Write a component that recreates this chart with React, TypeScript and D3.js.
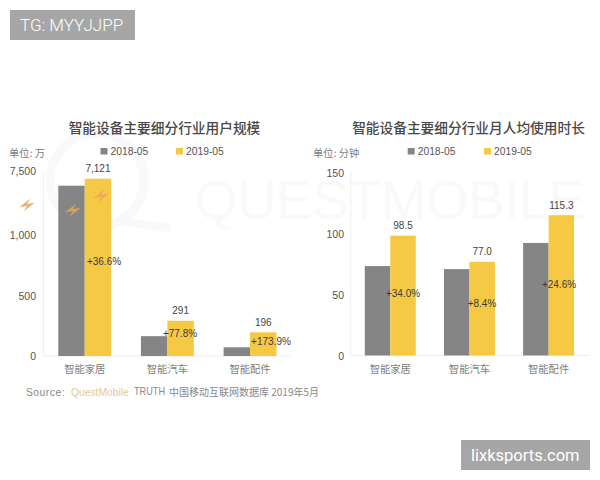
import React from "react";
import * as d3 from "d3";

const categories = ["智能家居", "智能汽车", "智能配件"];
const seriesNames = ["2018-05", "2019-05"];
const usersPrev = [5213, 164, 72];
const usersCurr = [7121, 291, 196];
const usersLabels = ["7,121", "291", "196"];
const usersGrowth = ["+36.6%", "+77.8%", "+173.9%"];
const usersTicks = [0, 500, 1000, 7500];
const usersTickLabels = ["0", "500", "1,000", "7,500"];
const timePrev = [73.5, 71, 92.5];
const timeCurr = [98.5, 77.0, 115.3];
const timeLabels = ["98.5", "77.0", "115.3"];
const timeGrowth = ["+34.0%", "+8.4%", "+24.6%"];
const timeTicks = [0, 50, 100, 150];

const GRAY = "#858585";
const YELLOW = "#f6c945";
const LATIN = "'Liberation Sans', 'Noto Sans CJK SC', sans-serif";
const CJK = "'Noto Sans CJK SC', sans-serif";

const growthPosLeft = [[104, 261], [180, 333], [271, 341.5]];
const growthPosRight = [[403, 293.5], [482, 303.7], [559, 284]];
const boltPos = [[27, 205], [73, 210], [101, 196]];

type PanelProps = {
  x0: number; x1: number; base: number;
  y: (v: number) => number;
  prev: number[]; curr: number[]; labels: string[];
  growth: string[]; growthPos: number[][];
  ticks: number[]; tickLabels: string[]; tickRight: number; topTickShift: number; padding: number;
  title: string; titleX: number; unit: string; unitX: number;
  legendX: number[];
};

function Panel(p: PanelProps) {
  const band = d3.scaleBand<string>().domain(categories).range([p.x0, p.x1]).paddingInner(p.padding).paddingOuter(p.padding / 2);
  const inner = d3.scaleBand<string>().domain(seriesNames).range([0, band.bandwidth()]);
  return (
    <g>
      <text x={p.titleX} y={127} textAnchor="middle" dominantBaseline="central" fontFamily={CJK} fontSize={13.7} fontWeight={500} fill="#484848">{p.title}</text>
      <text x={p.unitX} y={152} dominantBaseline="central" fontFamily={CJK} fontSize={10.3} fill="#7d7d7d">{p.unit}</text>
      {seriesNames.map((s, i) => (
        <g key={s}>
          <rect x={p.legendX[i]} y={148} width={7} height={6.5} fill={i ? YELLOW : GRAY} />
          <text x={p.legendX[i] + 10} y={151.5} dominantBaseline="central" fontFamily={LATIN} fontSize={10.3} fill="#555">{s}</text>
        </g>
      ))}
      <line x1={p.x0} x2={p.x0} y1={p.y(p.ticks[p.ticks.length - 1]) - 2} y2={p.base} stroke="#eee" />
      <line x1={p.x0} x2={p.x1} y1={p.base} y2={p.base} stroke="#eee" />
      {p.ticks.map((t, i) => (
        <text key={t} x={p.tickRight} y={p.y(t) - (i === p.ticks.length - 1 ? p.topTickShift : 0)} textAnchor="end" dominantBaseline="central" fontFamily={LATIN} fontSize={10.5} fill="#555">{p.tickLabels[i]}</text>
      ))}
      {categories.map((c, i) => {
        const bx = band(c)!;
        const w = inner.bandwidth();
        return (
          <g key={c}>
            <rect x={bx + inner(seriesNames[0])!} y={p.y(p.prev[i])} width={w} height={p.base - p.y(p.prev[i])} fill={GRAY} />
            <rect x={bx + inner(seriesNames[1])!} y={p.y(p.curr[i])} width={w} height={p.base - p.y(p.curr[i])} fill={YELLOW} />
            <text x={bx + inner(seriesNames[1])! + w / 2} y={p.y(p.curr[i]) - 10} textAnchor="middle" dominantBaseline="central" fontFamily={LATIN} fontSize={10} fill="#444">{p.labels[i]}</text>
            <text x={p.growthPos[i][0]} y={p.growthPos[i][1]} textAnchor="middle" dominantBaseline="central" fontFamily={LATIN} fontSize={10} fill="#3a3a3a">{p.growth[i]}</text>
            <text x={bx + band.bandwidth() / 2} y={368.5} textAnchor="middle" dominantBaseline="central" fontFamily={CJK} fontSize={10.3} fill="#7d7d7d">{c}</text>
          </g>
        );
      })}
    </g>
  );
}

export default function App() {
  const yLeft = d3.scaleLinear().domain([0, 1000, 5213, 7121, 7500]).range([356, 235, 185.7, 178.7, 175]);
  const yRight = d3.scaleLinear().domain([0, 150]).range([355.5, 173]);
  return (
    <svg width={600} height={480} style={{ position: "absolute", left: 0, top: 0, background: "#fff" }}>
      <g>
        <circle cx={97} cy={180} r={47} fill="none" stroke="#f9f9f9" strokeWidth={9} />
        <path d="M125 222 L170 228" stroke="#f9f9f9" strokeWidth={8} fill="none" />
        <text x={195} y={219} fontFamily={LATIN} fontSize={55} textLength={390} fill="#f9f9f9">QUESTMOBILE</text>
      </g>
      <Panel x0={43.4} x1={291.4} base={356} y={yLeft} prev={usersPrev} curr={usersCurr} labels={usersLabels}
        growth={usersGrowth} growthPos={growthPosLeft} ticks={usersTicks} tickLabels={usersTickLabels} tickRight={36} topTickShift={4.5}
        padding={0.36} title="智能设备主要细分行业用户规模" titleX={164.5} unit="单位: 万" unitX={9} legendX={[100.5, 176]} />
      <Panel x0={350.7} x1={588.2} base={355.5} y={yRight} prev={timePrev} curr={timeCurr} labels={timeLabels}
        growth={timeGrowth} growthPos={growthPosRight} ticks={timeTicks} tickLabels={timeTicks.map(String)} tickRight={344} topTickShift={0}
        padding={0.356} title="智能设备主要细分行业月人均使用时长" titleX={468.5} unit="单位: 分钟" unitX={313} legendX={[407.7, 484]} />
      {boltPos.map(([x, y], i) => (
        <path key={i} transform={`translate(${x},${y}) scale(1.1)`} d="M-7 2 L3 -6 L0 -1 L7 -2 L-3 6 L0 1 Z" fill="#e9a657" opacity={0.85} />
      ))}
      <text y={391.5} dominantBaseline="central" fontFamily={LATIN} fontSize={10.3} fill="#888">
        <tspan x={26} letterSpacing={0.5}>Source:</tspan>
        <tspan x={71} fill="#e8c88a">QuestMobile</tspan>
      </text>
      <text x={134} y={391.5} dominantBaseline="central" fontFamily={LATIN} fontSize={10.3} fill="#888" textLength={31} lengthAdjust="spacingAndGlyphs">TRUTH</text>
      <text x={169} y={391.5} dominantBaseline="central" fontFamily={CJK} fontSize={10} fill="#888">中国移动互联网数据库 2019年5月</text>
      <rect x={10} y={10} width={125} height={30} fill="#a6a6a6" />
      <text x={20} y={25} dominantBaseline="central" fontFamily="Roboto, sans-serif" fontSize={17} fontWeight={300} fill="#fff">TG: MYYJJPP</text>
      <rect x={461} y={440} width={129} height={30} fill="#a6a6a6" />
      <text x={471} y={455} dominantBaseline="central" fontFamily="Roboto, sans-serif" fontSize={16.5} fill="#fff">lixksports.com</text>
    </svg>
  );
}
